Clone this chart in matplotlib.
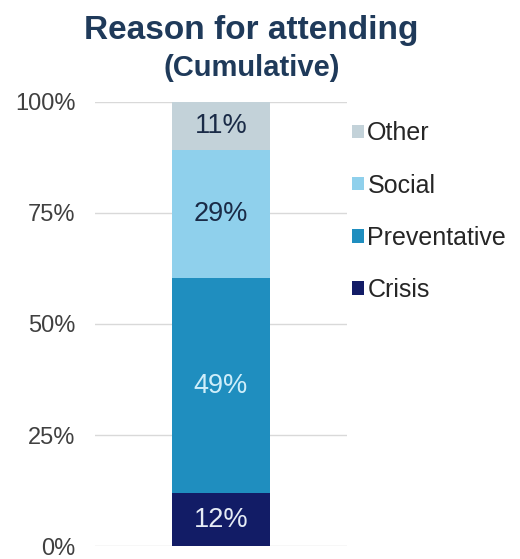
import matplotlib.pyplot as plt
import numpy as np

plt.rcParams['font.family'] = ['Liberation Sans', 'DejaVu Sans']

categories = ["Crisis", "Preventative", "Social", "Other"]
values = [12, 49, 29, 11]
colors = ["#121c66", "#1f8ebf", "#8fd0ec", "#c3d2d9"]
label_colors = ["#e6ecf5", "#cfeefa", "#1a2b47", "#1a2b47"]
yticks = [0, 25, 50, 75, 100]
ytick_labels = ["0%", "25%", "50%", "75%", "100%"]

fig = plt.figure(figsize=(5.2, 5.59), dpi=100)
ax = fig.add_axes([0.183, 0.023, 0.484, 0.795])

# 100% stacked: each segment is its share of the total
shares = np.array(values) / np.sum(values) * 100
bottom = 0
for cat, v, s, c, lc in zip(categories, values, shares, colors, label_colors):
    ax.bar(0, s, bottom=bottom, width=0.39, color=c, label=cat, zorder=3)
    ax.text(0, bottom + s / 2, f"{v}%", ha="center", va="center",
            fontsize=19.5, color=lc, zorder=4)
    bottom += s

ax.set_xlim(-0.5, 0.5)
ax.set_ylim(0, 100)
ax.set_yticks(yticks)
ax.set_yticklabels(ytick_labels, fontsize=17, color="#404040")
ax.tick_params(axis="y", length=0, pad=14)
ax.set_xticks([])
ax.grid(axis="y", color="#d9d9d9", linewidth=1, zorder=0)
for sp in ax.spines.values():
    sp.set_visible(False)

handles, labels = ax.get_legend_handles_labels()
fig.legend(handles[::-1], labels[::-1], loc="upper left",
           bbox_to_anchor=(0.668, 0.792), frameon=False, fontsize=18,
           handlelength=0.45, handleheight=0.45, handletextpad=0.15,
           labelspacing=1.13, labelcolor="#262626", borderpad=0.2,
           borderaxespad=0)

fig.text(0.483, 0.945, "Reason for attending", ha="center", va="center",
         fontsize=24, fontweight="bold", color="#1f3a5a")
fig.text(0.484, 0.879, "(Cumulative)", ha="center", va="center",
         fontsize=21, fontweight="bold", color="#1f3a5a")

fig.savefig("out.png", dpi=100)
